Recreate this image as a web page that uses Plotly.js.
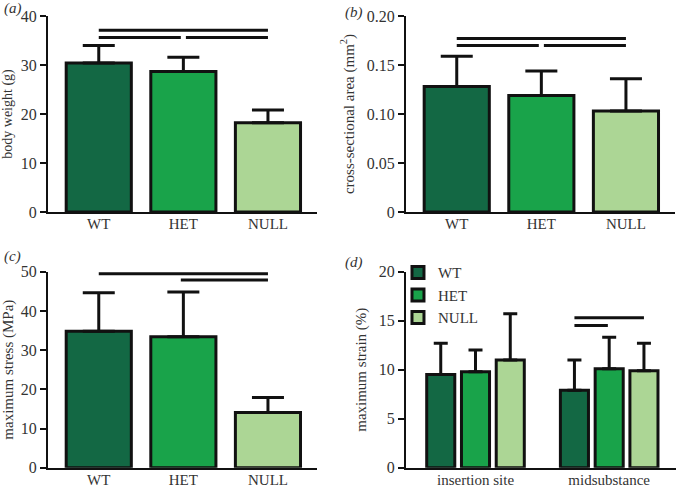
<!DOCTYPE html>
<html lang="en">
<head>
    <meta charset="UTF-8">
    <title>Tendon mechanics</title>
    <script src="https://cdn.plot.ly/plotly-3.0.1.min.js"></script>
    <style>
        body {
            margin: 0;
            background-color: white;
        }
        #plot {
            width: 678px;
            height: 487px;
        }
    </style>
</head>
<body>
    <div id="plot"></div>

    <script>
        // genotypes and their fill colours
        const groups = ['WT', 'HET', 'NULL'];
        const groupColors = ['#136844', '#19a34a', '#acd695'];

        // (a) body weight (g): mean and upward SD
        const bodyWeight = [30.4, 28.7, 18.2];
        const bodyWeightSd = [3.6, 2.9, 2.6];

        // (b) cross-sectional area (mm2)
        const area = [0.128, 0.119, 0.103];
        const areaSd = [0.031, 0.025, 0.033];

        // (c) maximum stress (MPa)
        const stress = [34.8, 33.4, 14.1];
        const stressSd = [9.8, 11.4, 3.8];

        // (d) maximum strain (%) per site
        const sites = ['insertion site', 'midsubstance'];
        const strainWT = [9.5, 7.9];
        const strainWTSd = [3.2, 3.1];
        const strainHET = [9.8, 10.1];
        const strainHETSd = [2.2, 3.2];
        const strainNULL = [11.0, 9.9];
        const strainNULLSd = [4.7, 2.8];

        // significance bars: [from, to, level] in axis units
        const sigA = [[0, 2, 37.1], [0, 0.97, 35.6], [1.03, 2, 35.6]];
        const sigB = [[0, 2, 0.177], [0, 0.97, 0.170], [1.03, 2, 0.170]];
        const sigC = [[0, 2, 49.5], [0.97, 2, 47.9]];
        const sigD = [[0.74, 1.26, 15.3], [0.74, 0.99, 14.5]];

        const idx = groups.map((g, i) => i);
        const serif = 'Liberation Serif';

        function singleBar(vals, sd, xa, ya) {
            return {
                type: 'bar',
                x: idx,
                y: vals,
                xaxis: xa,
                yaxis: ya,
                width: 0.77,
                marker: { color: groupColors, line: { color: '#111', width: 3 } },
                error_y: {
                    type: 'data', symmetric: false, array: sd, arrayminus: sd.map(() => 0),
                    color: '#111', thickness: 3, width: 16
                },
                showlegend: false,
                hoverinfo: 'skip'
            };
        }

        const strainSets = [[strainWT, strainWTSd], [strainHET, strainHETSd], [strainNULL, strainNULLSd]];
        const strainOffsets = [-0.365, -0.105, 0.155];
        const strainTraces = strainSets.map((s, i) => ({
            type: 'bar',
            name: groups[i],
            x: sites.map((_, j) => j),
            y: s[0],
            xaxis: 'x4',
            yaxis: 'y4',
            width: 0.21,
            offset: strainOffsets[i],
            marker: { color: groupColors[i], line: { color: '#111', width: 3 } },
            error_y: {
                type: 'data', symmetric: false, array: s[1], arrayminus: s[1].map(() => 0),
                color: '#111', thickness: 3, width: 7
            },
            hoverinfo: 'skip'
        }));

        const traces = [
            singleBar(bodyWeight, bodyWeightSd, 'x', 'y'),
            singleBar(area, areaSd, 'x2', 'y2'),
            singleBar(stress, stressSd, 'x3', 'y3'),
            ...strainTraces
        ];

        function xAxis(domain, range, vals, text, anchor) {
            return {
                domain: domain, range: range, anchor: anchor,
                tickvals: vals, ticktext: text,
                showline: true, linecolor: '#111', linewidth: 2,
                ticks: '', ticklabelstandoff: -3,
                showgrid: false, zeroline: false,
                tickfont: { family: serif, size: 15, color: '#333' }
            };
        }

        function yAxis(domain, range, vals, text, title, size, anchor) {
            return {
                domain: domain, range: range, anchor: anchor,
                tickvals: vals, ticktext: text,
                showline: true, linecolor: '#111', linewidth: 2,
                ticks: 'outside', ticklen: 6, tickwidth: 2, tickcolor: '#111',
                showgrid: false, zeroline: false,
                tickfont: { family: serif, size: 16, color: '#333' },
                title: { text: title, standoff: 9, font: { family: serif, size: size, color: '#333' } }
            };
        }

        function sigShapes(list, xref, yref) {
            return list.map(s => ({
                type: 'line', xref: xref, yref: yref,
                x0: s[0], x1: s[1], y0: s[2], y1: s[2],
                line: { color: '#111', width: 3 }
            }));
        }

        const topDomain = [0.5647, 0.9671];
        const botDomain = [0.0396, 0.4421];
        const leftDomain = [0.0708, 0.4676];
        const rightDomain = [0.5988, 0.9956];

        const layout = {
            width: 678,
            height: 487,
            margin: { l: 0, r: 0, t: 0, b: 0 },
            paper_bgcolor: 'white',
            plot_bgcolor: 'rgba(0,0,0,0)',
            font: { family: serif, color: '#333' },
            xaxis: xAxis(leftDomain, [-0.6, 2.58], idx, groups, 'y'),
            yaxis: yAxis(topDomain, [0, 40], [0, 10, 20, 30, 40], ['0', '10', '20', '30', '40'], 'body weight (g)', 14, 'x'),
            xaxis2: xAxis(rightDomain, [-0.6, 2.58], idx, groups, 'y2'),
            yaxis2: yAxis(topDomain, [0, 0.2], [0, 0.05, 0.1, 0.15, 0.2], ['0', '0.05', '0.10', '0.15', '0.20'], 'cross-sectional area (mm<sup>2</sup>)', 15, 'x2'),
            xaxis3: xAxis(leftDomain, [-0.6, 2.58], idx, groups, 'y3'),
            yaxis3: yAxis(botDomain, [0, 50], [0, 10, 20, 30, 40, 50], ['0', '10', '20', '30', '40', '50'], 'maximum stress (MPa)', 15, 'x3'),
            xaxis4: xAxis([0.5988, 0.9971], [-0.52, 1.5], [0, 1], sites, 'y4'),
            yaxis4: yAxis(botDomain, [0, 20], [0, 5, 10, 15, 20], ['0', '5', '10', '15', '20'], 'maximum strain (%)', 15, 'x4'),
            showlegend: true,
            legend: {
                x: 0.587, y: 0.474, xanchor: 'left', yanchor: 'top',
                bgcolor: 'rgba(0,0,0,0)',
                font: { family: serif, size: 15, color: '#333' },
                tracegroupgap: 0
            },
            shapes: [
                ...sigShapes(sigA, 'x', 'y'),
                ...sigShapes(sigB, 'x2', 'y2'),
                ...sigShapes(sigC, 'x3', 'y3'),
                ...sigShapes(sigD, 'x4', 'y4')
            ],
            annotations: [
                ['(a)', 0.003, 0.983],
                ['(b)', 0.506, 0.975],
                ['(c)', 0.003, 0.474],
                ['(d)', 0.506, 0.460]
            ].map(a => ({
                text: '<i>' + a[0] + '</i>', xref: 'paper', yref: 'paper',
                x: a[1], y: a[2], xanchor: 'left', yanchor: 'middle',
                showarrow: false, font: { family: serif, size: 15, color: '#333' }
            }))
        };

        Plotly.newPlot('plot', traces, layout, { displayModeBar: false, staticPlot: true });
    </script>
</body>
</html>
